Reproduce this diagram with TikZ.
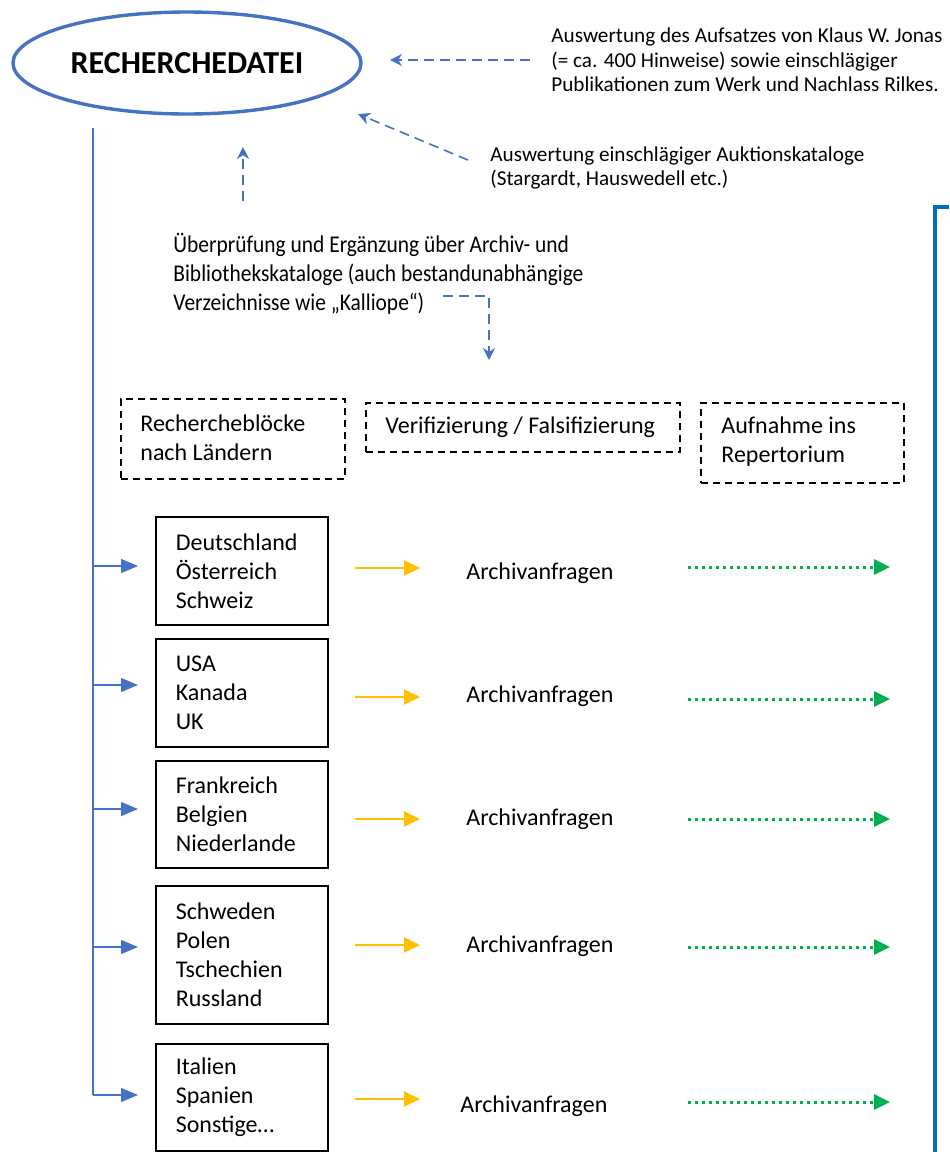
\documentclass[tikz,border=0pt]{standalone}
\usepackage{fontspec}
\setmainfont{Carlito}
\newfontfamily\condfont[FakeStretch=0.894]{Carlito}
\usetikzlibrary{arrows.meta,shapes.geometric}
\definecolor{bl}{HTML}{4472C4}
\definecolor{bldark}{HTML}{0070C0}
\definecolor{yl}{HTML}{FFC000}
\definecolor{gn}{HTML}{00B050}
\tikzset{
  maintext/.style={font=\fontsize{12}{14.5}\selectfont, align=left, inner sep=0pt, anchor=west},
  srctext/.style={font=\condfont\fontsize{12}{14.5}\selectfont, align=left, inner sep=0pt, anchor=west},
  smalltext/.style={font=\fontsize{10.6}{12.3}\selectfont, align=left, inner sep=0pt, anchor=west},
  hdrbox/.style={draw, dashed, dash pattern=on 3.5pt off 2.5pt, line width=0.75pt, anchor=north west, inner sep=0pt},
  cbox/.style={draw, line width=0.8pt, anchor=north west, align=left, font=\fontsize{12}{14.5}\selectfont, inner xsep=10pt, inner ysep=0pt},
  bluedash/.style={bl, line width=0.8pt, dash pattern=on 5pt off 3pt, -{Stealth[length=6pt,width=6pt]}},
  branch/.style={bl, line width=0.6pt, -{Triangle[length=8.5pt,width=7pt]}},
  ylarrow/.style={yl, line width=1pt, -{Triangle[length=8pt,width=7.5pt]}},
  gnarrow/.style={gn, line width=1.5pt, dash pattern=on 1.5pt off 2pt, -{Triangle[length=8pt,width=7.5pt]}}
}
\begin{document}
\begin{tikzpicture}[x=0.5pt,y=-0.5pt]
\useasboundingbox (0,0) rectangle (949,1152);
% ellipse
\node[ellipse, draw=bl, line width=1.7pt, minimum width=174pt, minimum height=51pt, font=\fontsize{16}{18}\selectfont\bfseries] (rd) at (187,63) {RECHERCHEDATEI};
% source texts
\node[smalltext] (src1) at (551,60) {Auswertung des Aufsatzes von Klaus W. Jonas\\(= ca. 400 Hinweise) sowie einschlägiger\\Publikationen zum Werk und Nachlass Rilkes.};
\node[smalltext] (src2) at (490,168) {Auswertung einschlägiger Auktionskataloge\\(Stargardt, Hauswedell etc.)};
\node[srctext] (src3) at (173,274) {Überprüfung und Ergänzung über Archiv- und\\Bibliothekskataloge (auch bestandunabhängige\\Verzeichnisse wie „Kalliope“)};
% dashed source arrows
\coordinate (a1s) at (530,60); \coordinate (a1e) at (390,60);
\coordinate (a2s) at (468,160); \coordinate (a2e) at (358,114);
\coordinate (a3s) at (243,201); \coordinate (a3e) at (243,147);
\coordinate (a4s) at (443,296); \coordinate (a4e) at (489,360);
\draw[bluedash] (a1s) -- (a1e);
\draw[bluedash] (a2s) -- (a2e);
\draw[bluedash] (a3s) -- (a3e);
\draw[bluedash] (a4s) -| (a4e);
% header boxes
\node[hdrbox, minimum width=112pt, minimum height=40pt] (h1) at (120,398) {};
\node[maintext] (h1t) at (140,438) {Rechercheblöcke\\nach Ländern};
\node[hdrbox, minimum width=157pt, minimum height=24.5pt] (h2) at (365,402) {};
\node[maintext] (h2t) at (385,427) {Verifizierung / Falsifizierung};
\node[hdrbox, minimum width=101.5pt, minimum height=40pt] (h3) at (700,402) {};
\node[maintext] (h3t) at (721,442) {Aufnahme ins\\Repertorium};
% country boxes
\node[cbox, text width=66pt, minimum height=54pt] (b1) at (155,516) {Deutschland\\Österreich\\Schweiz};
\node[cbox, text width=66pt, minimum height=54pt] (b2) at (155,638) {USA\\Kanada\\UK};
\node[cbox, text width=66pt, minimum height=53.5pt] (b3) at (155,760) {Frankreich\\Belgien\\Niederlande};
\node[cbox, text width=66pt, minimum height=69pt] (b4) at (155,885) {Schweden\\Polen\\Tschechien\\Russland};
\node[cbox, text width=66pt, minimum height=53.5pt] (b5) at (155,1043) {Italien\\Spanien\\Sonstige…};
% trunk
\coordinate (ttop) at (93,128);
\coordinate (t1) at (93,566);
\coordinate (t2) at (93,685);
\coordinate (t3) at (93,809);
\coordinate (t4) at (93,947);
\coordinate (t5) at (93,1095);
\draw[bl, line width=1pt] (ttop) -- (t5);
\foreach \i in {1,...,5} {
  \draw[branch, shorten >=8.5pt] (t\i) -- (t\i -| b\i.west);
}
% Archivanfragen rows
\foreach \i/\yy/\ya/\yg/\xa in {1/568/573/567/466, 2/697/696/699/466, 3/819/819/819/466, 4/945/946/947/466, 5/1099/1106/1102/460} {
  \node[maintext] (ar\i) at (\xa,\ya) {Archivanfragen};
  \coordinate (ys\i) at (355,\yy); \coordinate (ye\i) at (420,\yy);
  \draw[ylarrow] (ys\i) -- (ye\i);
  \coordinate (gs\i) at (688,\yg); \coordinate (ge\i) at (890,\yg);
  \draw[gnarrow] (gs\i) -- (ge\i);
}
% right frame
\coordinate (f1) at (949,207); \coordinate (f2) at (935,207); \coordinate (f3) at (935,1152);
\draw[bldark, line width=2pt] (f1) -- (f2) -- (f3);
\end{tikzpicture}
\end{document}
